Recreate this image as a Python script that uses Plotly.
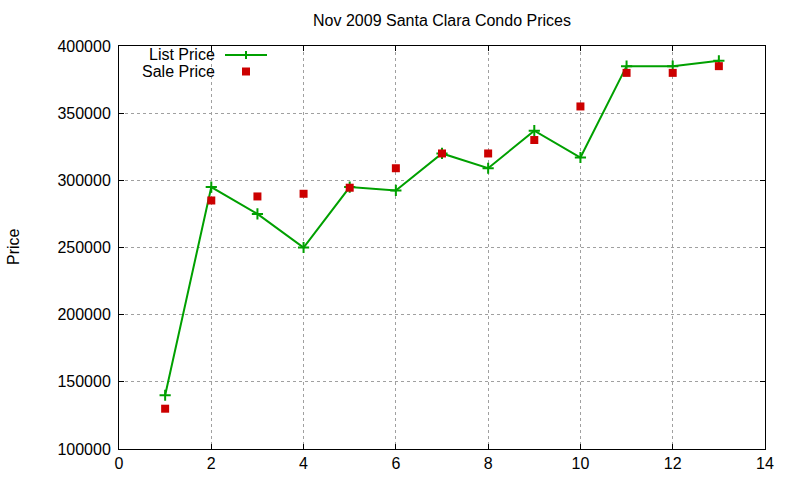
import plotly.graph_objects as go

months = [1, 2, 3, 4, 5, 6, 7, 8, 9, 10, 11, 12, 13]
list_price = [140000, 295000, 275000, 250000, 295000, 292500, 320000, 309000, 337000, 317000, 385000, 385000, 389000]
sale_price = [130000, 285000, 288000, 290000, 294500, 309000, 320000, 320000, 330000, 355000, 380000, 380000, 385000]
x_ticks = [0, 2, 4, 6, 8, 10, 12, 14]
y_ticks = [100000, 150000, 200000, 250000, 300000, 350000, 400000]

GREEN = "#00a000"
RED = "#cc0000"
FONT = "Liberation Sans, Arial, sans-serif"

fig = go.Figure()
fig.add_trace(go.Scatter(
    x=months, y=list_price, mode="lines+markers", name="List Price",
    line=dict(color=GREEN, width=2),
    marker=dict(symbol="cross-thin", size=8, line=dict(color=GREEN, width=2), color=GREEN),
))
fig.add_trace(go.Scatter(
    x=months, y=sale_price, mode="markers", name="Sale Price",
    marker=dict(symbol="square", size=8, color=RED),
))

L, R, T, B = 119, 35, 46, 31
W, H = 800, 480
pw = W - L - R
ph = H - T - B

def px(xp):
    return (xp - L) / pw

def py(yp):
    return (H - B - yp) / ph

shapes = []
# legend key: line + cross
ly = py(55)
shapes.append(dict(type="line", xref="paper", yref="paper", x0=px(225), x1=px(267), y0=ly, y1=ly,
                   line=dict(color=GREEN, width=2)))
shapes.append(dict(type="line", xref="paper", yref="paper", x0=px(242), x1=px(250), y0=ly, y1=ly,
                   line=dict(color=GREEN, width=2)))
shapes.append(dict(type="line", xref="paper", yref="paper", x0=px(246), x1=px(246), y0=py(51), y1=py(59),
                   line=dict(color=GREEN, width=2)))
# legend key: square
shapes.append(dict(type="rect", xref="paper", yref="paper", x0=px(242), x1=px(250), y0=py(67.5), y1=py(75.5),
                   fillcolor=RED, line=dict(width=0)))

annotations = [
    dict(text="List Price", xref="paper", yref="paper", x=px(217), y=py(55), xanchor="right", yanchor="middle",
         showarrow=False, font=dict(family=FONT, size=16, color="#000000")),
    dict(text="Sale Price", xref="paper", yref="paper", x=px(217), y=py(71), xanchor="right", yanchor="middle",
         showarrow=False, font=dict(family=FONT, size=16, color="#000000")),
    dict(text="Price", xref="paper", yref="paper", x=px(13), y=py(247), xanchor="center", yanchor="middle",
         textangle=-90, showarrow=False, font=dict(family=FONT, size=16, color="#000000")),
]

axis_common = dict(
    showline=True, linecolor="#000000", linewidth=1, mirror="allticks",
    ticks="inside", ticklen=5, tickcolor="#000000", tickwidth=1,
    showgrid=True, gridcolor="#a0a0a0", gridwidth=1, griddash="dot",
    zeroline=False, automargin=False, tickfont=dict(family=FONT, size=16, color="#000000"),
)

fig.update_layout(
    width=W, height=H,
    margin=dict(l=L, r=R, t=T, b=B, pad=0, autoexpand=False),
    paper_bgcolor="white", plot_bgcolor="white",
    showlegend=False,
    title=dict(text="Nov 2009 Santa Clara Condo Prices", x=0.5, xref="paper", y=1 - 20 / H, yanchor="middle",
               font=dict(family=FONT, size=16, color="#000000")),
    xaxis=dict(range=[0, 14], tickvals=x_ticks, ticktext=[str(v) for v in x_ticks], **axis_common),
    yaxis=dict(range=[100000, 400000], tickvals=y_ticks, ticktext=[str(v) for v in y_ticks],
               ticklabelstandoff=4, **axis_common),
    shapes=shapes,
    annotations=annotations,
)

fig.write_html("out.html", config={"displayModeBar": False},
               post_script="document.body.style.margin='0';document.body.style.overflow='hidden';")
